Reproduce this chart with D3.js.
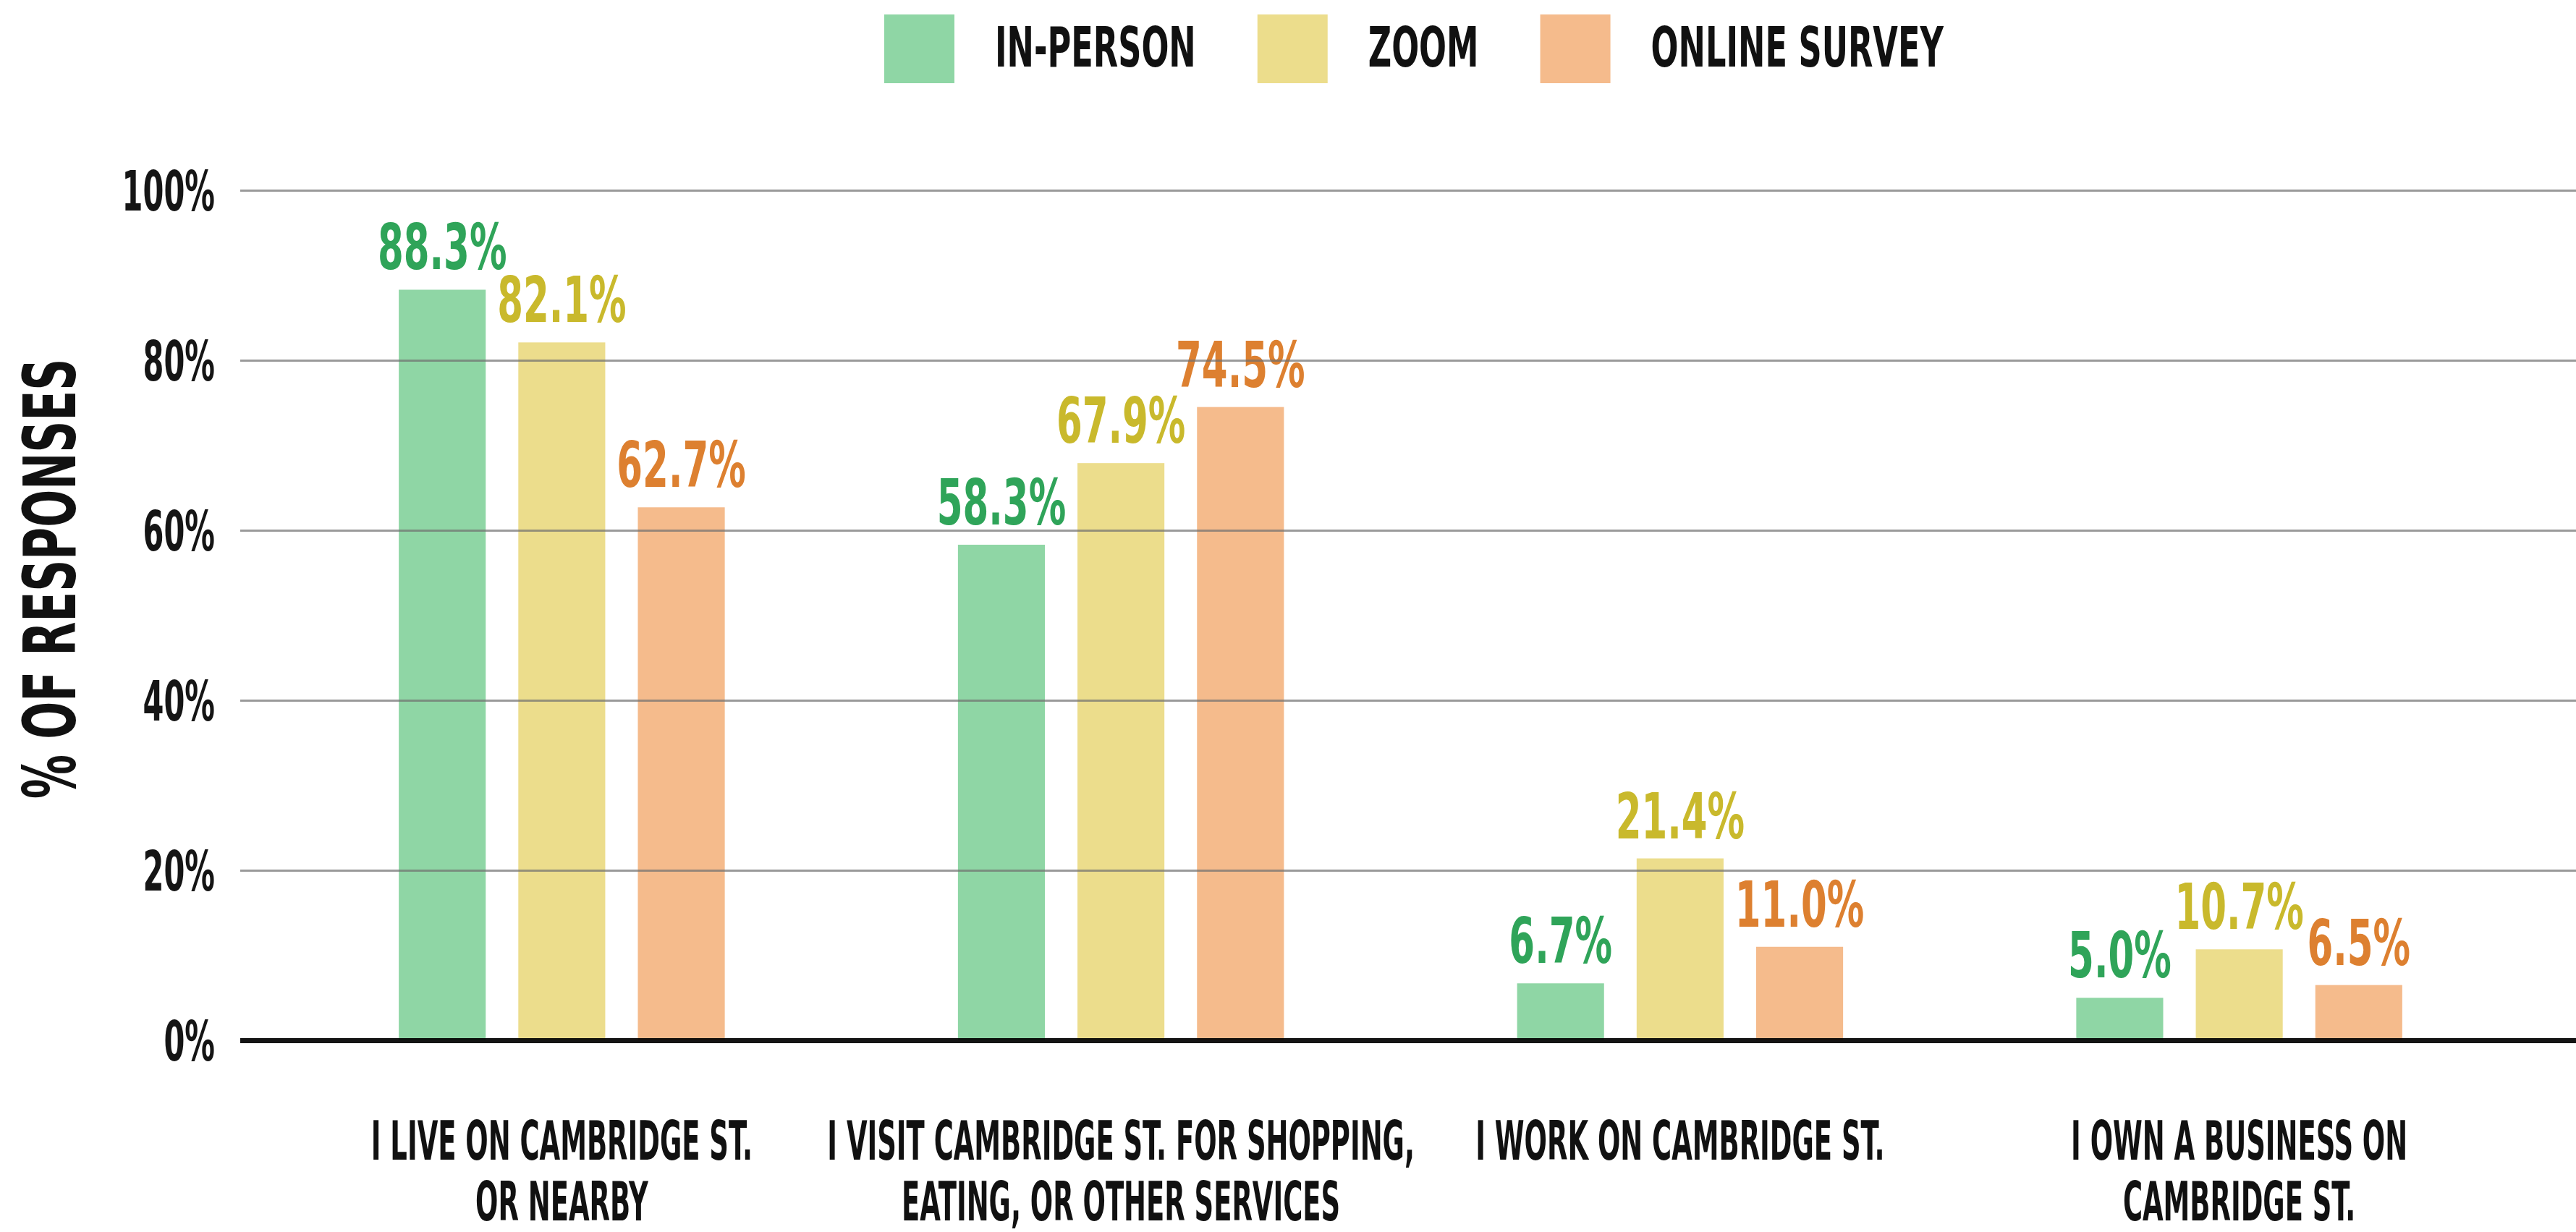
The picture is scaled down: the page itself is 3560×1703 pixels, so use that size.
<!DOCTYPE html>
<html>
<head>
<meta charset="utf-8">
<script src="https://cdn.jsdelivr.net/npm/d3@7"></script>
<style>
  html, body { margin: 0; padding: 0; background: #ffffff; }
  svg { display: block; }
  text { font-family: "Liberation Sans Narrow", "DejaVu Sans Condensed", "Roboto", sans-serif; font-weight: bold; }
</style>
</head>
<body>
<script>
// ---------- DATA ----------
const categories = [
  ["I LIVE ON CAMBRIDGE ST.", "OR NEARBY"],
  ["I VISIT CAMBRIDGE ST. FOR SHOPPING,", "EATING, OR OTHER SERVICES"],
  ["I WORK ON CAMBRIDGE ST."],
  ["I OWN A BUSINESS ON", "CAMBRIDGE ST."]
];
const seriesNames = ["IN-PERSON", "ZOOM", "ONLINE SURVEY"];
const inPerson = [88.3, 58.3, 6.7, 5.0];
const zoom = [82.1, 67.9, 21.4, 10.7];
const onlineSurvey = [62.7, 74.5, 11.0, 6.5];
const yTicks = [0, 20, 40, 60, 80, 100];
const yTitle = "% OF RESPONSES";

const barColors = ["#8fd6a5", "#ecdd8c", "#f5bb8c"];
const labelColors = ["#2fa459", "#c9b92c", "#dd8030"];

// ---------- SETUP ----------
const W = 3560, H = 1703;
const svg = d3.select("body").append("svg").attr("width", W).attr("height", H);

const catKeys = categories.map(c => c.join(" "));
const seriesValues = [inPerson, zoom, onlineSurvey];

const plotLeft = 332, plotRight = W;
const y = d3.scaleLinear().domain([0, 100]).range([1438, 263]);

const x0 = d3.scaleBand().domain(catKeys).range([390, 3481])
  .paddingInner(0.417).paddingOuter(0.2085);
const x1 = d3.scaleBand().domain(seriesNames).range([0, x0.bandwidth()])
  .paddingInner(0.2727).paddingOuter(0);

// horizontally condensed text placed at (x, y)
function squeezed(parent, x, yy, f, txt) {
  const g = parent.append("g").attr("transform", `translate(${x},${yy})`);
  const t = g.append("text").attr("transform", `scale(${f},1)`).text(txt);
  return t;
}

// ---------- BARS ----------
const groups = svg.append("g").selectAll("g")
  .data(catKeys).join("g")
  .attr("transform", d => `translate(${x0(d)},0)`);

groups.each(function (cat, ci) {
  const g = d3.select(this);
  const rows = seriesNames.map((s, si) => ({ s, si, v: seriesValues[si][ci] }));
  g.selectAll("rect").data(rows).join("rect")
    .attr("x", d => x1(d.s))
    .attr("y", d => y(d.v))
    .attr("width", x1.bandwidth())
    .attr("height", d => y(0) - y(d.v))
    .attr("fill", d => barColors[d.si]);
});

// ---------- GRID / AXIS (drawn over bars) ----------
const axis = d3.axisLeft(y).tickValues(yTicks)
  .tickSize(-(plotRight - plotLeft)).tickPadding(35)
  .tickFormat(d => d + "%");
const ax = svg.append("g").attr("transform", `translate(${plotLeft},0)`).call(axis);
ax.select(".domain").remove();
ax.selectAll(".tick line")
  .attr("stroke", d => d === 0 ? "#000" : "#6f6f6f")
  .attr("stroke-width", d => d === 0 ? 7 : 3)
  .attr("stroke-opacity", d => d === 0 ? 0.92 : 0.7);
ax.selectAll(".tick text")
  .attr("fill", "#151515")
  .style("font-size", "77px")
  .attr("x", 0)
  .attr("dy", "0.36em")
  .attr("transform", "translate(-35,0) scale(0.6,1)");

// ---------- VALUE LABELS ----------
groups.each(function (cat, ci) {
  const g = d3.select(this);
  seriesNames.forEach((s, si) => {
    const v = seriesValues[si][ci];
    squeezed(g, x1(s) + x1.bandwidth() / 2, y(v) - 28, 0.65, v.toFixed(1) + "%")
      .attr("text-anchor", "middle")
      .attr("fill", labelColors[si])
      .style("font-size", "88px");
  });
});

// ---------- CATEGORY LABELS ----------
const catG = svg.append("g");
categories.forEach((lines, ci) => {
  const cx = x0(catKeys[ci]) + x0.bandwidth() / 2;
  lines.forEach((line, li) => {
    squeezed(catG, cx, 1603 + li * 84, 0.555, line)
      .attr("text-anchor", "middle")
      .attr("fill", "#111")
      .style("font-size", "74px");
  });
});

// ---------- Y TITLE ----------
svg.append("g").attr("transform", "translate(104,800) rotate(-90)")
  .append("text")
  .attr("transform", "scale(0.68,1)")
  .attr("text-anchor", "middle")
  .attr("fill", "#111")
  .style("font-size", "100px")
  .text(yTitle);

// ---------- LEGEND ----------
const leg = svg.append("g");
let lx = 1222;
const legF = 0.645;
seriesNames.forEach((name, i) => {
  leg.append("rect").attr("x", lx).attr("y", 20).attr("width", 97).attr("height", 95)
    .attr("fill", barColors[i]);
  const t = squeezed(leg, lx + 153, 92, legF, name)
    .attr("fill", "#111").style("font-size", "77px");
  const w = t.node().getBBox().width * legF;
  lx = lx + 153 + w + 85;
});
</script>
</body>
</html>
